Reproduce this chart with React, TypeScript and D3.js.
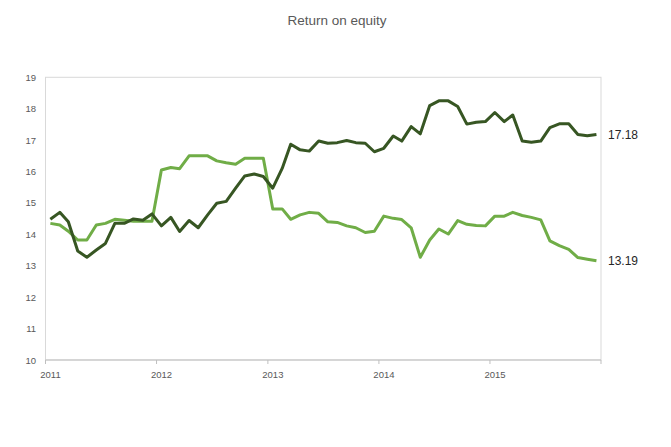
import React from "react";
import * as d3 from "d3";

const title = "Return on equity";
const years = [2011, 2012, 2013, 2014, 2015];
const yTicks = [10, 11, 12, 13, 14, 15, 16, 17, 18, 19];

// Monthly values Jan 2011 .. Dec 2015
const seriesDark = [
  14.48, 14.7, 14.4, 13.47, 13.27, 13.5, 13.71, 14.35, 14.35, 14.49, 14.45, 14.65,
  14.27, 14.54, 14.09, 14.44, 14.21, 14.62, 14.99, 15.05, 15.47, 15.86, 15.92, 15.84,
  15.47, 16.1, 16.87, 16.69, 16.65, 16.97, 16.9, 16.92, 16.99, 16.92, 16.9, 16.63,
  16.74, 17.13, 16.97, 17.43, 17.2, 18.1, 18.25, 18.25, 18.07, 17.51, 17.57, 17.59,
  17.88, 17.59, 17.8, 16.97, 16.93, 16.97, 17.4, 17.52, 17.52, 17.18, 17.14, 17.18,
];
const seriesLight = [
  14.35, 14.3, 14.1, 13.82, 13.82, 14.3, 14.35, 14.48, 14.45, 14.42, 14.42, 14.42,
  16.05, 16.13, 16.09, 16.5, 16.5, 16.5, 16.34, 16.28, 16.23, 16.42, 16.42, 16.42,
  14.81, 14.81, 14.48, 14.62, 14.7, 14.67, 14.4, 14.38, 14.27, 14.21, 14.06, 14.1,
  14.58, 14.51, 14.47, 14.21, 13.27, 13.82, 14.17, 14.01, 14.44, 14.32, 14.28, 14.27,
  14.58, 14.58, 14.7, 14.6, 14.54, 14.46, 13.79, 13.64, 13.52, 13.26, 13.21, 13.16,
];
const endLabels = ["17.18", "13.19"];

const W = 671;
const H = 447;
const left = 45.5;
const right = 601;
const top = 77.3;
const bottom = 360;

const dateOf = (i: number) => new Date(2011 + Math.floor(i / 12), i % 12, 17);

export default function App() {
  const x = d3
    .scaleTime()
    .domain([new Date(2011, 0, 1), new Date(2016, 0, 1)])
    .range([left, right]);
  const y = d3.scaleLinear().domain([10, 19]).range([bottom, top]);
  const line = d3
    .line<number>()
    .x((_, i) => x(dateOf(i)))
    .y((d) => y(d));

  const textColor = "#595959";
  const font = "'Liberation Sans', 'DejaVu Sans', sans-serif";
  const lastI = seriesDark.length - 1;

  return (
    <svg
      width={W}
      height={H}
      style={{ position: "absolute", left: 0, top: 0, background: "#fff" }}
      fontFamily={font}
    >
      <rect x={0} y={0} width={W} height={H} fill="#fff" />
      <text x={337} y={25} textAnchor="middle" fontSize={13.5} fill={textColor}>
        {title}
      </text>
      {/* plot area border */}
      <rect
        x={left}
        y={top}
        width={right - left}
        height={bottom - top}
        fill="none"
        stroke="#d9d9d9"
        strokeWidth={1}
      />
      {/* x axis */}
      <line x1={left} x2={right} y1={bottom} y2={bottom} stroke="#bfbfbf" />
      {years.concat([2016]).map((yr) => (
        <line
          key={"t" + yr}
          x1={x(new Date(yr, 0, 1))}
          x2={x(new Date(yr, 0, 1))}
          y1={bottom}
          y2={bottom + 4}
          stroke="#bfbfbf"
        />
      ))}
      {years.map((yr) => (
        <text
          key={"l" + yr}
          x={x(new Date(yr, 0, 1)) + 5}
          y={bottom + 18}
          textAnchor="middle"
          fontSize={9.5}
          fill={textColor}
        >
          {yr}
        </text>
      ))}
      {yTicks.map((t) => (
        <text
          key={"y" + t}
          x={36}
          y={y(t) + 3.5}
          textAnchor="end"
          fontSize={9.5}
          fill={textColor}
        >
          {t}
        </text>
      ))}
      <path d={line(seriesLight) || ""} fill="none" stroke="#70ad47" strokeWidth={3} strokeLinejoin="round" />
      <path d={line(seriesDark) || ""} fill="none" stroke="#375623" strokeWidth={3} strokeLinejoin="round" />
      <text x={608} y={y(seriesDark[lastI]) + 4.5} fontSize={12} fill="#262626">
        {endLabels[0]}
      </text>
      <text x={608} y={y(seriesLight[lastI]) + 4.5} fontSize={12} fill="#262626">
        {endLabels[1]}
      </text>
    </svg>
  );
}
